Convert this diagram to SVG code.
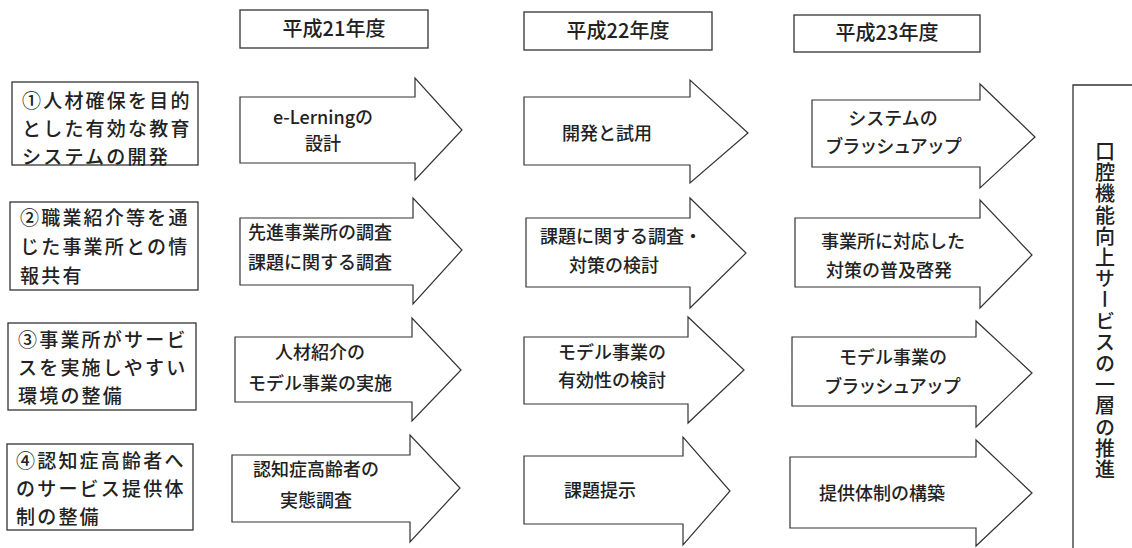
<svg xmlns="http://www.w3.org/2000/svg" width="1132" height="548" viewBox="0 0 1132 548">
<style>
.box{fill:#fff;stroke:#333;stroke-width:1.3}
.arr{fill:#fff;stroke:#333;stroke-width:1.2;stroke-linejoin:miter}
text{font-family:"Noto Sans CJK JP","Noto Sans CJK SC",sans-serif;fill:#222;font-weight:500}
.hd{font-size:20px;text-anchor:middle}
.lb{font-size:19px;letter-spacing:2.2px}
.at{font-size:18px;text-anchor:middle}
.vt{font-size:20px;writing-mode:vertical-rl;text-anchor:middle;letter-spacing:1.2px}
</style>
<rect width="1132" height="548" fill="#fff"/>
<g id="headers">
<g id="h21"><rect class="box" x="240" y="10" width="188" height="38"/><text class="hd" x="334" y="36">平成21年度</text></g>
<g id="h22"><rect class="box" x="524" y="12" width="188" height="38"/><text class="hd" x="618" y="38">平成22年度</text></g>
<g id="h23"><rect class="box" x="794" y="15" width="186" height="37"/><text class="hd" x="887" y="40">平成23年度</text></g>
</g>
<g id="goals">
<g id="g1"><rect class="box" x="12" y="82" width="186" height="83"/>
<text class="lb" x="22" y="108">①人材確保を目的</text><text class="lb" x="22" y="136">とした有効な教育</text><text class="lb" x="22" y="164">システムの開発</text></g>
<g id="g2"><rect class="box" x="10" y="202" width="188" height="88"/>
<text class="lb" x="20" y="225">②職業紹介等を通</text><text class="lb" x="20" y="254">じた事業所との情</text><text class="lb" x="20" y="283">報共有</text></g>
<g id="g3"><rect class="box" x="8" y="323" width="188" height="87"/>
<text class="lb" x="18" y="347">③事業所がサービ</text><text class="lb" x="18" y="375">スを実施しやすい</text><text class="lb" x="18" y="403">環境の整備</text></g>
<g id="g4"><rect class="box" x="7" y="444" width="186" height="86"/>
<text class="lb" x="16" y="468">④認知症高齢者へ</text><text class="lb" x="16" y="496">のサービス提供体</text><text class="lb" x="16" y="524">制の整備</text></g>
</g>
<g id="col21">
<g id="a11"><path class="arr" d="M240,97 H415 V78 L462,130 L415,180 V163 H240 Z"/><text class="at" x="323" y="124">e-Lerningの</text><text class="at" x="323" y="150">設計</text></g>
<g id="a12"><path class="arr" d="M240,218 H413 V198 L462,250 L413,304 V285 H240 Z"/><text class="at" x="320" y="239">先進事業所の調査</text><text class="at" x="320" y="269">課題に関する調査</text></g>
<g id="a13"><path class="arr" d="M235,337 H412 V318 L461,370 L412,421 V402 H235 Z"/><text class="at" x="320" y="359">人材紹介の</text><text class="at" x="320" y="390">モデル事業の実施</text></g>
<g id="a14"><path class="arr" d="M232,455 H410 V435 L460,488 L410,542 V522 H232 Z"/><text class="at" x="316" y="476">認知症高齢者の</text><text class="at" x="316" y="507">実態調査</text></g>
</g>
<g id="col22">
<g id="a21"><path class="arr" d="M524,97 H690 V80 L748,133 L690,183 V165 H524 Z"/><text class="at" x="607" y="140">開発と試用</text></g>
<g id="a22"><path class="arr" d="M526,218 H690 V198 L746,253 L690,308 V287 H526 Z"/><text class="at" x="621" y="243">課題に関する調査・</text><text class="at" x="614" y="272">対策の検討</text></g>
<g id="a23"><path class="arr" d="M524,337 H688 V317 L744,370 L688,423 V404 H524 Z"/><text class="at" x="612" y="359">モデル事業の</text><text class="at" x="612" y="387">有効性の検討</text></g>
<g id="a24"><path class="arr" d="M524,456 H683 V437 L730,491 L683,545 V524 H524 Z"/><text class="at" x="600" y="497">課題提示</text></g>
</g>
<g id="col23">
<g id="a31"><path class="arr" d="M812,100 H980 V84 L1035,137 L980,188 V167 H812 Z"/><text class="at" x="893" y="125">システムの</text><text class="at" x="893" y="153" letter-spacing="-1">ブラッシュアップ</text></g>
<g id="a32"><path class="arr" d="M795,218 H980 V200 L1032,255 L980,308 V287 H795 Z"/><text class="at" x="893" y="248">事業所に対応した</text><text class="at" x="889" y="277">対策の普及啓発</text></g>
<g id="a33"><path class="arr" d="M792,337 H976 V321 L1032,373 L976,427 V406 H792 Z"/><text class="at" x="893" y="364">モデル事業の</text><text class="at" x="892" y="393" letter-spacing="-1">ブラッシュアップ</text></g>
<g id="a34"><path class="arr" d="M790,457 H976 V440 L1032,493 L976,546 V528 H790 Z"/><text class="at" x="882" y="500">提供体制の構築</text></g>
</g>
<g id="outcome"><path class="box" d="M1140,85 H1073 V556"/><text class="vt" x="1105" y="311">口腔機能向上サービスの一層の推進</text></g>
</svg>
